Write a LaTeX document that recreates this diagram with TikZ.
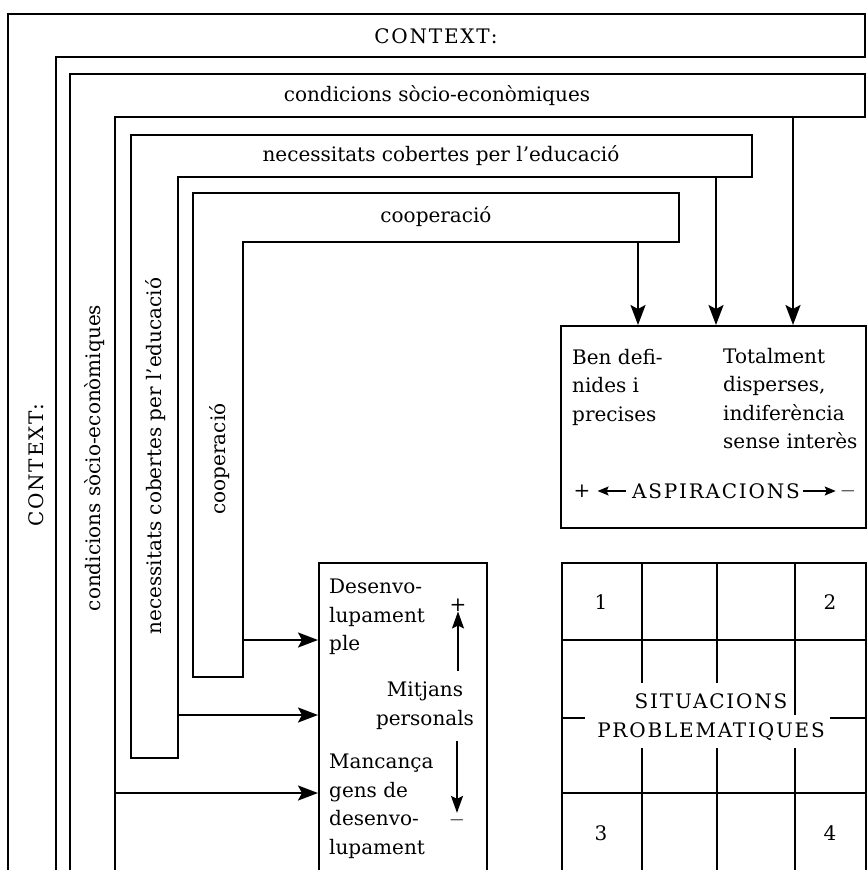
\documentclass[tikz,border=0pt]{standalone}
\usepackage{fontspec}
\setmainfont{DejaVu Serif}
\usepackage{tikz}
\usetikzlibrary{calc, positioning, arrows.meta}
\tikzset{
    band/.style={line width=1.8pt},
    box/.style={rectangle, draw=black, line width=1.8pt, anchor=north west, inner sep=0pt},
    arrow/.style={-{Stealth[length=20pt, width=15pt, inset=4pt]}, line width=2.2pt},
    tick/.style={-{Stealth[length=17pt, width=12pt, inset=3pt]}, line width=1.8pt},
    small/.style={-{Stealth[length=11pt, width=9pt, inset=2pt]}, line width=1.5pt},
    txt/.style={font=\fontsize{20}{28.5}\selectfont, inner sep=0pt},
    caps/.style={font=\fontsize{20}{28.5}\selectfont\addfontfeature{LetterSpace=9}, inner sep=0pt},
    lines/.style={txt, align=left, anchor=north west}
}

\begin{document}
\begin{tikzpicture}[x=1pt, y=-1pt]
        \useasboundingbox (0,0) rectangle (867,870);
        \clip (0,0) rectangle (867,870);

        % nested context bands
        \draw[band] (8,880) -- (8,14) -- (865,14) -- (865,57) -- (56,57) -- (56,880);
        \draw[band] (70,880) -- (70,74) -- (865,74) -- (865,117) -- (115,117) -- (115,880);
        \draw[band] (131,758) -- (131,135) -- (752,135) -- (752,177) -- (178,177) -- (178,758) -- cycle;
        \draw[band] (193,677) -- (193,193) -- (679,193) -- (679,242) -- (243,242) -- (243,677) -- cycle;

        \node[caps] (Ctx) at (436,36) {CONTEXT:};
        \node[txt] (Cond) at (437,96) {condicions sòcio-econòmiques};
        \node[txt] (Nec) at (441,156) {necessitats cobertes per l’educació};
        \node[txt] (Coop) at (436,217) {cooperació};

        \node[caps, rotate=90] (CtxV) at (36,465) {CONTEXT:};
        \node[txt, rotate=90] (CondV) at (95,458) {condicions sòcio-econòmiques};
        \node[txt, rotate=90] (NecV) at (156,456) {necessitats cobertes per l’educació};
        \node[txt, rotate=90] (CoopV) at (220,459) {cooperació};

        % aspirations
        \node[box, minimum width=305pt, minimum height=202pt] (Asp) at (560,325) {};
        \node[lines] (Ben) at (572,349) {Ben defi-\\nides i\\precises};
        \node[lines] (Tot) at (723,348) {Totalment\\disperses,\\indiferència\\sense interès};
        \node[caps] (AspLbl) at (716,491) {ASPIRACIONS};
        \node[txt] (AspPlus) at (582,491) {+};
        \node[txt] (AspMinus) at (848,491) {$-$};
        \draw[small, shorten <=6pt, shorten >=7pt] (AspLbl) -- (AspPlus);
        \draw[small, shorten <=3pt, shorten >=4pt] (AspLbl) -- (AspMinus);

        \coordinate (CondOut) at (793,117);
        \coordinate (NecOut) at (716,177);
        \coordinate (CoopOut) at (638,242);
        \draw[arrow] (CondOut) -- (CondOut |- Asp.north);
        \draw[arrow] (NecOut) -- (NecOut |- Asp.north);
        \draw[arrow] (CoopOut) -- (CoopOut |- Asp.north);

        % personal means
        \node[box, minimum width=168pt, minimum height=330pt] (Mid) at (318,562) {};
        \node[lines] (Des) at (329,579) {Desenvo-\\lupament\\ple};
        \node[txt, align=center, anchor=north] (Mitj) at (425,682) {Mitjans\\personals};
        \node[lines] (Manc) at (329,754) {Mancança\\gens de\\desenvo-\\lupament};
        \node[txt] (Plus) at (458,605) {+};
        \node[txt] (Minus) at (457,820) {$-$};
        \draw[tick] ([yshift=11pt]Mitj.north -| Plus) -- (Plus);
        \draw[tick] ([yshift=-11pt]Mitj.south -| Minus) -- (Minus);

        \coordinate (CoopIn) at (243,640);
        \coordinate (NecIn) at (178,715);
        \coordinate (CondIn) at (115,793);
        \draw[arrow] (CoopIn) -- (CoopIn -| Mid.west);
        \draw[arrow] (NecIn) -- (NecIn -| Mid.west);
        \draw[arrow] (CondIn) -- (CondIn -| Mid.west);

        % problem situations
        \node[box, minimum width=304pt, minimum height=330pt] (Grid) at (561,562) {};
        \draw[band] (561,640) -- (865,640) (561,793) -- (865,793);
        \foreach \x in {642,717}
            \draw[band] (\x,562) -- (\x,683) (\x,748) -- (\x,880);
        \draw[band] (795,562) -- (795,715) (795,748) -- (795,880);
        \draw[band] (561,718) -- (585,718) (830,718) -- (865,718);
        \node[caps, align=center] (Sit) at (711,717) {SITUACIONS\\PROBLEMATIQUES};
        \node[txt] (N1) at (601,602) {1};
        \node[txt] (N2) at (830,602) {2};
        \node[txt] (N3) at (601,833) {3};
        \node[txt] (N4) at (830,833) {4};

    \end{tikzpicture}
\end{document}
